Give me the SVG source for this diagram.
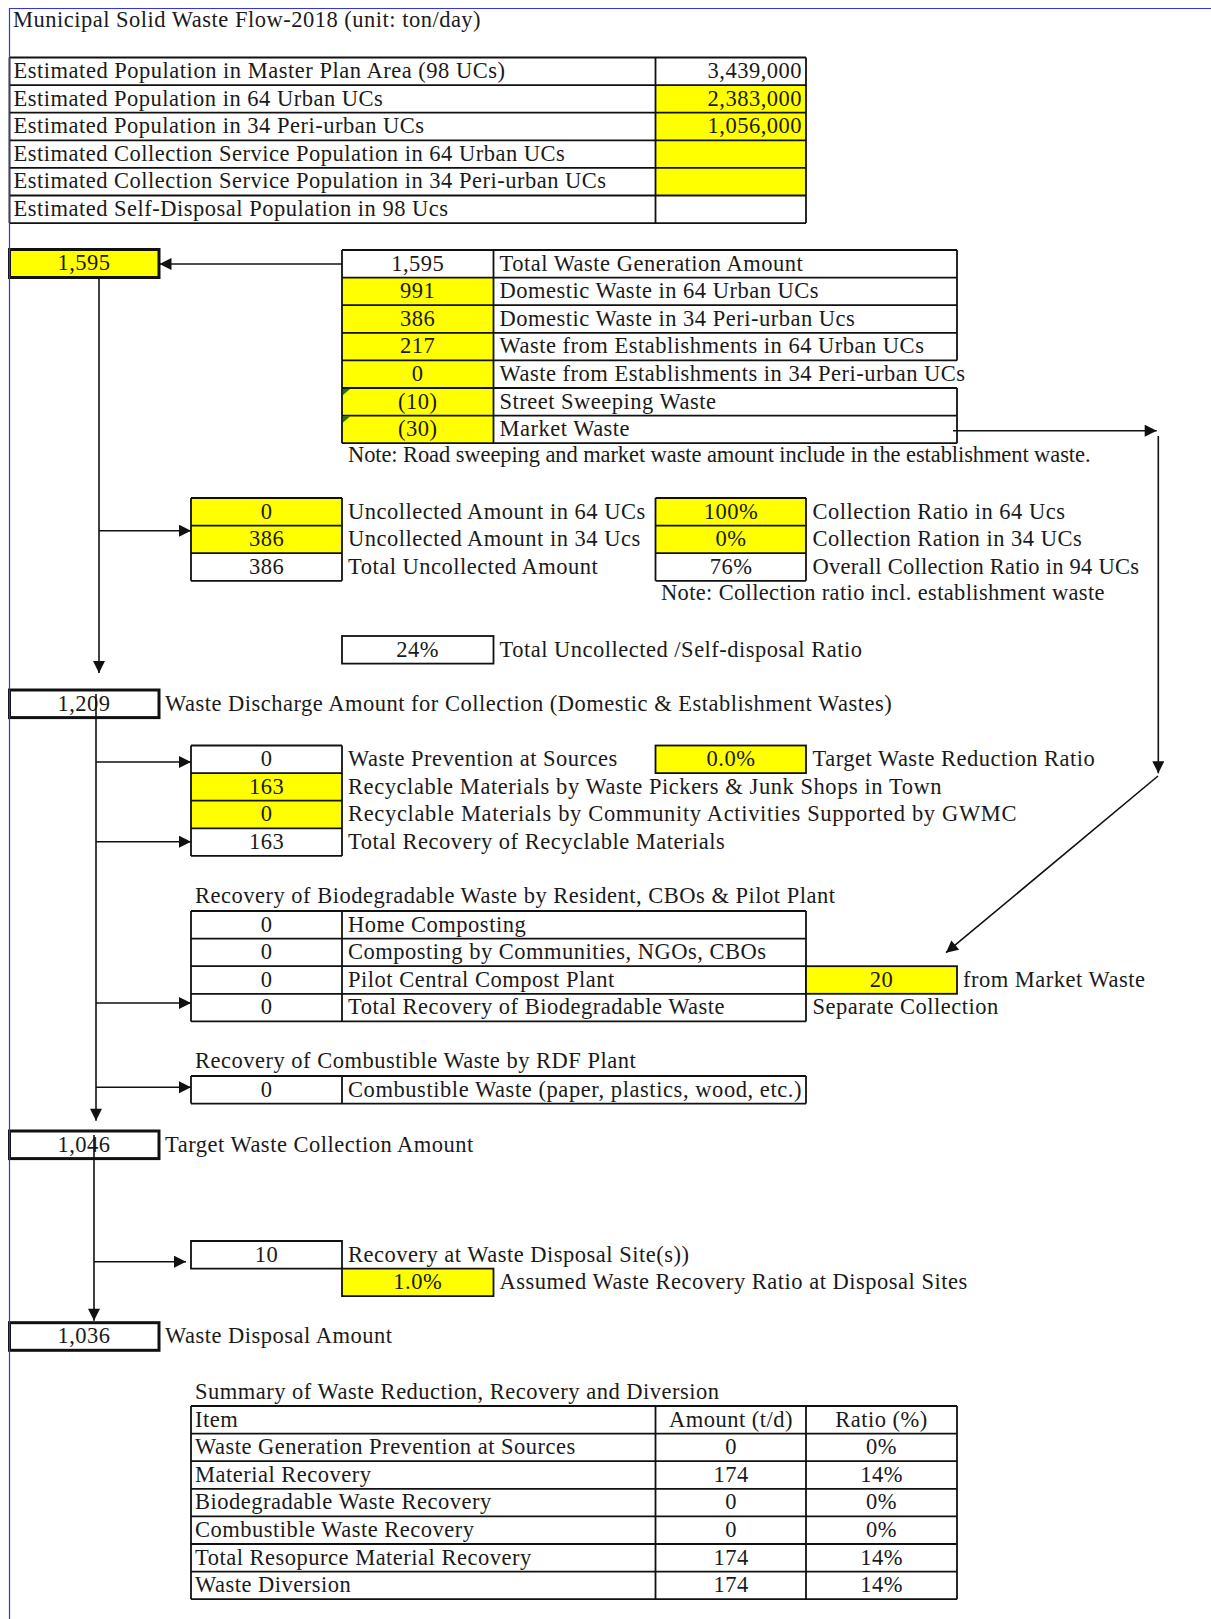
<svg xmlns="http://www.w3.org/2000/svg" width="1211" height="1619" viewBox="0 0 1211 1619">
<style>
.t{font-family:"Liberation Serif","Times New Roman",serif;font-size:22.5px;fill:#1a1a1a;letter-spacing:0.5px}
.c{text-anchor:middle}
.r{text-anchor:end}
.g{stroke:#111;stroke-width:1.8;fill:none}
.b{stroke:#111;stroke-width:3;fill:none}
.y{fill:#ffff00}
.w{fill:#ffffff}
.k{stroke:#111;stroke-width:1.6;fill:none}
.frame{stroke:#3333ee;stroke-width:1.2;fill:none}
</style>
<defs>
<marker id="ah" viewBox="0 0 10 10" refX="10" refY="5" markerWidth="13" markerHeight="12" markerUnits="userSpaceOnUse" orient="auto"><path d="M0,0 L10,5 L0,10 z" fill="#111"/></marker>
</defs>
<rect x="0" y="0" width="1211" height="1619" fill="#ffffff"/>

<g id="title"><text class="t" x="13" y="27">Municipal Solid Waste Flow-2018 (unit: ton/day)</text></g>

<g id="population-table">
<rect class="y" x="655.5" y="85.1" width="150.5" height="110.4"/>
<path class="g" d="M9.5,57.5H806M9.5,85.1H806M9.5,112.7H806M9.5,140.3H806M9.5,167.9H806M9.5,195.5H806M9.5,223.1H806M9.5,57.5V223.1M655.5,57.5V223.1M806,57.5V223.1"/>
<text class="t" x="13.5" y="78" textLength="492" lengthAdjust="spacing">Estimated Population in Master Plan Area (98 UCs)</text>
<text class="t" x="13.5" y="105.6">Estimated Population in 64 Urban UCs</text>
<text class="t" x="13.5" y="133.2">Estimated Population in 34 Peri-urban UCs</text>
<text class="t" x="13.5" y="160.8">Estimated Collection Service Population in 64 Urban UCs</text>
<text class="t" x="13.5" y="188.4">Estimated Collection Service Population in 34 Peri-urban UCs</text>
<text class="t" x="13.5" y="216">Estimated Self-Disposal Population in 98 Ucs</text>
<text class="t r" x="802" y="78">3,439,000</text>
<text class="t r" x="802" y="105.6">2,383,000</text>
<text class="t r" x="802" y="133.2">1,056,000</text>
</g>

<g id="generation-table">
<rect class="y" x="342" y="277.6" width="151.5" height="165.6"/>
<polygon points="343,389 350,389 343,395" fill="#1a7a1a"/>
<polygon points="343,416.6 350,416.6 343,422.6" fill="#1a7a1a"/>
<path class="g" d="M342,250H957M342,277.6H957M342,305.2H957M342,332.8H957M342,360.4H957M342,388H957M342,415.6H957M342,443.2H957M342,250V443.2M493.5,250V443.2M957,250V360.4M957,388V443.2"/>
<text class="t c" x="417.7" y="270.5">1,595</text>
<text class="t c" x="417.7" y="298.1">991</text>
<text class="t c" x="417.7" y="325.7">386</text>
<text class="t c" x="417.7" y="353.3">217</text>
<text class="t c" x="417.7" y="380.9">0</text>
<text class="t c" x="417.7" y="408.5">(10)</text>
<text class="t c" x="417.7" y="436.1">(30)</text>
<text class="t" x="499.5" y="270.5">Total Waste Generation Amount</text>
<text class="t" x="499.5" y="298.1">Domestic Waste in 64 Urban UCs</text>
<text class="t" x="499.5" y="325.7">Domestic Waste in 34 Peri-urban Ucs</text>
<text class="t" x="499.5" y="353.3">Waste from Establishments in 64 Urban UCs</text>
<text class="t" x="499.5" y="380.9">Waste from Establishments in 34 Peri-urban UCs</text>
<text class="t" x="499.5" y="408.5">Street Sweeping Waste</text>
<text class="t" x="499.5" y="436.1">Market Waste</text>
<text class="t" x="348" y="462" textLength="743" lengthAdjust="spacing">Note: Road sweeping and market waste amount include in the establishment waste.</text>
</g>

<g id="box-1595">
<rect class="y" x="9.5" y="249.5" width="149.5" height="28"/>
<rect class="b" x="9.5" y="249.5" width="149.5" height="28"/>
<text class="t c" x="84" y="270">1,595</text>
</g>

<g id="uncollected-table">
<rect class="y" x="191" y="498" width="151" height="55.2"/>
<path class="g" d="M191,498H342M191,525.6H342M191,553.2H342M191,580.8H342M191,498V580.8M342,498V580.8"/>
<text class="t c" x="266.5" y="518.5">0</text>
<text class="t c" x="266.5" y="546.1">386</text>
<text class="t c" x="266.5" y="573.7">386</text>
<text class="t" x="348" y="518.5">Uncollected Amount in 64 UCs</text>
<text class="t" x="348" y="546.1">Uncollected Amount in 34 Ucs</text>
<text class="t" x="348" y="573.7">Total Uncollected Amount</text>
</g>

<g id="collection-ratio-table">
<rect class="y" x="655.5" y="498" width="150.5" height="55.2"/>
<path class="g" d="M655.5,498H806M655.5,525.6H806M655.5,553.2H806M655.5,580.8H806M655.5,498V580.8M806,498V580.8"/>
<text class="t c" x="731" y="518.5">100%</text>
<text class="t c" x="731" y="546.1">0%</text>
<text class="t c" x="731" y="573.7">76%</text>
<text class="t" x="812.5" y="518.5">Collection Ratio in 64 Ucs</text>
<text class="t" x="812.5" y="546.1">Collection Ration in 34 UCs</text>
<text class="t" x="812.5" y="573.7" textLength="327" lengthAdjust="spacing">Overall Collection Ratio in 94 UCs</text>
<text class="t" x="661" y="599.5" textLength="444" lengthAdjust="spacing">Note: Collection ratio incl. establishment waste</text>
</g>

<g id="self-disposal-ratio">
<rect class="g" x="342" y="636" width="151.5" height="27.6"/>
<text class="t c" x="417.7" y="656.5">24%</text>
<text class="t" x="499.5" y="656.5">Total Uncollected /Self-disposal Ratio</text>
</g>

<g id="box-1209">
<rect class="b" x="9.5" y="690" width="149.5" height="27.6"/>
<text class="t c" x="84" y="710.5">1,209</text>
<text class="t" x="165" y="710.5">Waste Discharge Amount for Collection (Domestic &amp; Establishment Wastes)</text>
</g>

<g id="recyclable-table">
<rect class="y" x="191" y="773.1" width="151" height="55.2"/>
<path class="g" d="M191,745.5H342M191,773.1H342M191,800.7H342M191,828.3H342M191,855.9H342M191,745.5V855.9M342,745.5V855.9"/>
<text class="t c" x="266.5" y="766">0</text>
<text class="t c" x="266.5" y="793.6">163</text>
<text class="t c" x="266.5" y="821.2">0</text>
<text class="t c" x="266.5" y="848.8">163</text>
<text class="t" x="348" y="766">Waste Prevention at Sources</text>
<text class="t" x="348" y="793.6" textLength="594" lengthAdjust="spacing">Recyclable Materials by Waste Pickers &amp; Junk Shops in Town</text>
<text class="t" x="348" y="821.2" textLength="669" lengthAdjust="spacing">Recyclable Materials by Community Activities Supported by GWMC</text>
<text class="t" x="348" y="848.8">Total Recovery of Recyclable Materials</text>
</g>

<g id="target-reduction">
<rect class="y" x="655.5" y="745.5" width="150.5" height="27.6"/>
<rect class="g" x="655.5" y="745.5" width="150.5" height="27.6"/>
<text class="t c" x="731" y="766">0.0%</text>
<text class="t" x="812.5" y="766">Target Waste Reduction Ratio</text>
</g>

<g id="biodegradable-table">
<text class="t" x="195" y="902.5">Recovery of Biodegradable Waste by Resident, CBOs &amp; Pilot Plant</text>
<path class="g" d="M191,911H806M191,938.6H806M191,966.2H806M191,993.8H806M191,1021.4H806M191,911V1021.4M342,911V1021.4M806,911V1021.4"/>
<text class="t c" x="266.5" y="931.5">0</text>
<text class="t c" x="266.5" y="959.1">0</text>
<text class="t c" x="266.5" y="986.7">0</text>
<text class="t c" x="266.5" y="1014.3">0</text>
<text class="t" x="348" y="931.5">Home Composting</text>
<text class="t" x="348" y="959.1">Composting by Communities, NGOs, CBOs</text>
<text class="t" x="348" y="986.7">Pilot Central Compost Plant</text>
<text class="t" x="348" y="1014.3">Total Recovery of Biodegradable Waste</text>
<text class="t" x="812.5" y="1014.3">Separate Collection</text>
</g>

<g id="market-separate">
<rect class="y" x="806" y="966.2" width="151" height="27.6"/>
<rect class="g" x="806" y="966.2" width="151" height="27.6"/>
<text class="t c" x="881.5" y="986.7">20</text>
<text class="t" x="963" y="986.7">from Market Waste</text>
</g>

<g id="combustible-table">
<text class="t" x="195" y="1067.5">Recovery of Combustible Waste by RDF Plant</text>
<path class="g" d="M191,1076H806M191,1103.6H806M191,1076V1103.6M342,1076V1103.6M806,1076V1103.6"/>
<text class="t c" x="266.5" y="1096.5">0</text>
<text class="t" x="348" y="1096.5" textLength="454" lengthAdjust="spacing">Combustible Waste (paper, plastics, wood, etc.)</text>
</g>

<g id="box-1046">
<rect class="b" x="9.5" y="1131" width="149.5" height="27.6"/>
<text class="t c" x="84" y="1151.5">1,046</text>
<text class="t" x="165" y="1151.5">Target Waste Collection Amount</text>
</g>

<g id="disposal-recovery">
<rect class="y" x="342" y="1268.6" width="151.5" height="27.6"/>
<path class="g" d="M191,1241H342V1268.6H191ZM342,1268.6H493.5V1296.2H342Z"/>
<text class="t c" x="266.5" y="1261.5">10</text>
<text class="t" x="348" y="1261.5">Recovery at Waste Disposal Site(s))</text>
<text class="t c" x="417.7" y="1289.1">1.0%</text>
<text class="t" x="499.5" y="1289.1">Assumed Waste Recovery Ratio at Disposal Sites</text>
</g>

<g id="box-1036">
<rect class="b" x="9.5" y="1322.7" width="149.5" height="27.6"/>
<text class="t c" x="84" y="1343.2">1,036</text>
<text class="t" x="165" y="1343.2">Waste Disposal Amount</text>
</g>

<g id="summary-table">
<text class="t" x="195" y="1398.5">Summary of Waste Reduction, Recovery and Diversion</text>
<path class="g" d="M191,1406H957M191,1433.6H957M191,1461.2H957M191,1488.8H957M191,1516.4H957M191,1544H957M191,1571.6H957M191,1599.2H957M191,1406V1599.2M655.5,1406V1599.2M806,1406V1599.2M957,1406V1599.2"/>
<text class="t" x="195" y="1426.5">Item</text>
<text class="t c" x="731" y="1426.5">Amount (t/d)</text>
<text class="t c" x="881.5" y="1426.5">Ratio (%)</text>
<text class="t" x="195" y="1454.1">Waste Generation Prevention at Sources</text>
<text class="t c" x="731" y="1454.1">0</text>
<text class="t c" x="881.5" y="1454.1">0%</text>
<text class="t" x="195" y="1481.7">Material Recovery</text>
<text class="t c" x="731" y="1481.7">174</text>
<text class="t c" x="881.5" y="1481.7">14%</text>
<text class="t" x="195" y="1509.3">Biodegradable Waste Recovery</text>
<text class="t c" x="731" y="1509.3">0</text>
<text class="t c" x="881.5" y="1509.3">0%</text>
<text class="t" x="195" y="1536.9">Combustible Waste Recovery</text>
<text class="t c" x="731" y="1536.9">0</text>
<text class="t c" x="881.5" y="1536.9">0%</text>
<text class="t" x="195" y="1564.5">Total Resopurce Material Recovery</text>
<text class="t c" x="731" y="1564.5">174</text>
<text class="t c" x="881.5" y="1564.5">14%</text>
<text class="t" x="195" y="1592.1">Waste Diversion</text>
<text class="t c" x="731" y="1592.1">174</text>
<text class="t c" x="881.5" y="1592.1">14%</text>
</g>

<g id="connectors">
<line class="k" x1="342" y1="264" x2="159.5" y2="264" marker-end="url(#ah)"/>
<line class="k" x1="99" y1="277.5" x2="99" y2="673" marker-end="url(#ah)"/>
<line class="k" x1="99" y1="530.7" x2="191" y2="530.7" marker-end="url(#ah)"/>
<line class="k" x1="96" y1="694" x2="96" y2="1120.7" marker-end="url(#ah)"/>
<line class="k" x1="96" y1="762" x2="191" y2="762" marker-end="url(#ah)"/>
<line class="k" x1="96" y1="841.7" x2="191" y2="841.7" marker-end="url(#ah)"/>
<line class="k" x1="96" y1="1003" x2="191" y2="1003" marker-end="url(#ah)"/>
<line class="k" x1="96" y1="1087.3" x2="191" y2="1087.3" marker-end="url(#ah)"/>
<line class="k" x1="94" y1="1135" x2="94" y2="1320.7" marker-end="url(#ah)"/>
<line class="k" x1="94" y1="1261.7" x2="186" y2="1261.7" marker-end="url(#ah)"/>
<line class="k" x1="953" y1="430.7" x2="1156.7" y2="430.7" marker-end="url(#ah)"/>
<line class="k" x1="1158.3" y1="436" x2="1158.3" y2="773.3" marker-end="url(#ah)"/>
<line class="k" x1="1158" y1="776" x2="946" y2="952.7" marker-end="url(#ah)"/>
</g>

<g id="frame">
<path class="frame" d="M9.5,1619V8.5H1211"/>
</g>
</svg>
